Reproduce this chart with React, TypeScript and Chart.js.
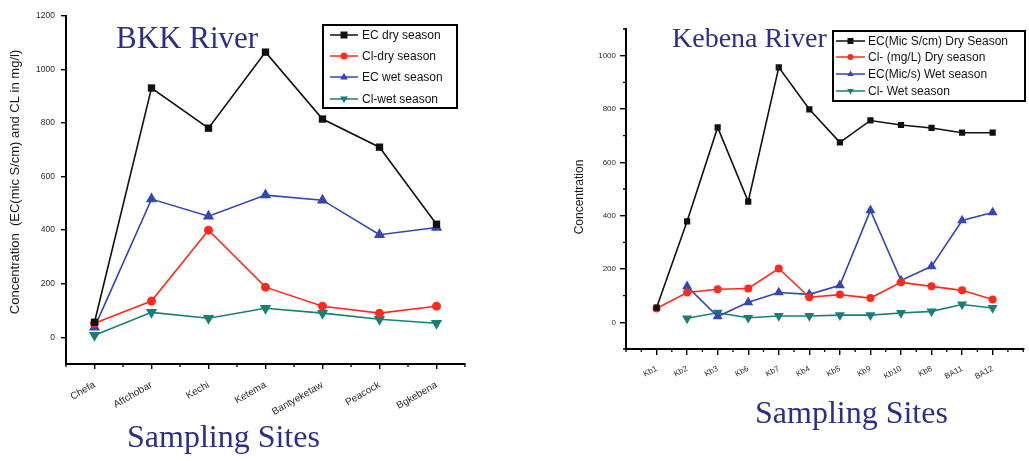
import React, { useEffect, useRef } from 'react';
import { Chart, registerables } from 'chart.js';

Chart.register(...registerables);

// ---- BKK River ----
const bkkSites = ['Chefa', 'Aftchobar', 'Kechi', 'Ketema', 'Bantyeketaw', 'Peacock', 'Bgkebena'];
const bkkEcDry = [56, 931, 781, 1065, 815, 710, 422];
const bkkClDry = [52, 135, 400, 187, 116, 90, 116];
const bkkEcWet = [37, 516, 452, 531, 512, 383, 410];
const bkkClWet = [7, 93, 71, 108, 90, 67, 52];
const bkkLabels = ['EC dry season', 'Cl-dry season', 'EC wet season', 'Cl-wet season'];
const bkkYTicks = [0, 200, 400, 600, 800, 1000, 1200];

// ---- Kebena River ----
const kebenaSites = ['Kb1', 'Kb2', 'Kb3', 'Kb6', 'Kb7', 'Kb4', 'Kb5', 'Kb9', 'Kb10', 'Kb8', 'BA11', 'BA12'];
const kebenaEcDry = [55, 379, 731, 453, 956, 799, 675, 757, 740, 729, 711, 711];
const kebenaClDry = [52, 112, 124, 127, 202, 94, 104, 91, 150, 135, 120, 86];
const kebenaEcWet = [null, 135, 22, 75, 112, 105, 139, 420, 157, 210, 382, 412];
const kebenaClWet = [null, 15, 36, 17, 24, 24, 27, 27, 35, 41, 67, 54];
const kebenaLabels = ['EC(Mic S/cm) Dry Season', 'Cl- (mg/L) Dry season', 'EC(Mic/s) Wet season', 'Cl- Wet season'];
const kebenaYTicks = [0, 200, 400, 600, 800, 1000];

// Series styling shared by both panels: colour + marker shape
const seriesColors = ['#111111', '#ff2a1c', '#3346b4', '#177f78'];
const seriesShapes = ['rect', 'circle', 'triangle', 'triangleDown'];

const NAVY = '#2d2f86';
const SERIF = '"Liberation Serif", "DejaVu Serif", serif';
const SANS = '"Liberation Sans", Arial, sans-serif';

type Shape = string;

function drawMarker(ctx: CanvasRenderingContext2D, shape: Shape, x: number, y: number, r: number, color: string) {
  ctx.save();
  ctx.fillStyle = color;
  ctx.beginPath();
  if (shape === 'rect') {
    ctx.rect(x - r, y - r, 2 * r, 2 * r);
  } else if (shape === 'circle') {
    ctx.arc(x, y, r, 0, Math.PI * 2);
  } else if (shape === 'triangle') {
    ctx.moveTo(x, y - r * 1.2);
    ctx.lineTo(x + r * 1.1, y + r * 0.7);
    ctx.lineTo(x - r * 1.1, y + r * 0.7);
    ctx.closePath();
  } else {
    ctx.moveTo(x, y + r * 1.2);
    ctx.lineTo(x + r * 1.1, y - r * 0.7);
    ctx.lineTo(x - r * 1.1, y - r * 0.7);
    ctx.closePath();
  }
  ctx.fill();
  ctx.restore();
}

type PanelCfg = {
  width: number;
  height: number;
  sites: string[];
  series: (number | null)[][];
  labels: string[];
  xShift: number;
  xMin: number;
  xMax: number;
  yMin: number;
  yMax: number;
  yTicks: number[];
  yMinor: number[];
  pad: { top: number; right: number };
  yWidth: number;
  xHeight: number;
  markerSize: number[];
  tickFont: number;
  xTickFont: number;
  xRotation: number;
  xPadding: number;
  yPadding: number;
  tickLength: number;
  title: { text: string; size: number; x: number; y: number };
  xTitle: { text: string; size: number; x: number; y: number };
  yTitle: { text: string; size: number; x: number; y: number };
  legend: { x: number; y: number; w: number; h: number; rows: number[]; lx1: number; lx2: number; tx: number; font: number; r: number };
};

function overlayPlugin(cfg: PanelCfg) {
  return {
    id: 'panelOverlay',
    afterDraw(chart: any) {
      const ctx: CanvasRenderingContext2D = chart.ctx;
      const xs = chart.scales.x;
      const ys = chart.scales.y;
      const area = chart.chartArea;

      // minor tick marks between the labelled ones
      ctx.save();
      ctx.strokeStyle = '#000';
      ctx.lineWidth = 1.3;
      ctx.beginPath();
      for (let v = cfg.xMin; v <= cfg.xMax + 1e-9; v += 0.5) {
        const idx = v - cfg.xShift;
        if (Math.abs(idx - Math.round(idx)) < 1e-9 && idx >= 0 && idx < cfg.sites.length) continue;
        const px = xs.getPixelForValue(v);
        ctx.moveTo(px, area.bottom);
        ctx.lineTo(px, area.bottom + 3);
      }
      for (const v of cfg.yMinor) {
        const py = ys.getPixelForValue(v);
        ctx.moveTo(area.left, py);
        ctx.lineTo(area.left - 3, py);
      }
      ctx.stroke();
      ctx.restore();

      // panel title and axis titles
      ctx.save();
      ctx.fillStyle = NAVY;
      ctx.textBaseline = 'alphabetic';
      ctx.textAlign = 'left';
      ctx.font = `${cfg.title.size}px ${SERIF}`;
      ctx.fillText(cfg.title.text, cfg.title.x, cfg.title.y);
      ctx.font = `${cfg.xTitle.size}px ${SERIF}`;
      ctx.fillText(cfg.xTitle.text, cfg.xTitle.x, cfg.xTitle.y);
      ctx.restore();

      ctx.save();
      ctx.fillStyle = '#1a1a1a';
      ctx.font = `${cfg.yTitle.size}px ${SANS}`;
      ctx.textAlign = 'center';
      ctx.textBaseline = 'middle';
      ctx.translate(cfg.yTitle.x, cfg.yTitle.y);
      ctx.rotate(-Math.PI / 2);
      ctx.fillText(cfg.yTitle.text, 0, 0);
      ctx.restore();

      // legend box
      const lg = cfg.legend;
      ctx.save();
      ctx.fillStyle = '#fff';
      ctx.fillRect(lg.x, lg.y, lg.w, lg.h);
      ctx.strokeStyle = '#000';
      ctx.lineWidth = 2;
      ctx.strokeRect(lg.x, lg.y, lg.w, lg.h);
      cfg.labels.forEach((label, i) => {
        const y = lg.rows[i];
        ctx.strokeStyle = seriesColors[i];
        ctx.lineWidth = 1.5;
        ctx.beginPath();
        ctx.moveTo(lg.lx1, y);
        ctx.lineTo(lg.lx2, y);
        ctx.stroke();
        drawMarker(ctx, seriesShapes[i], (lg.lx1 + lg.lx2) / 2, y, lg.r, seriesColors[i]);
        ctx.fillStyle = '#111';
        ctx.font = `${lg.font}px ${SANS}`;
        ctx.textAlign = 'left';
        ctx.textBaseline = 'middle';
        ctx.fillText(label, lg.tx, y + 0.5);
      });
      ctx.restore();
    },
  };
}

function buildConfig(cfg: PanelCfg): any {
  const datasets = cfg.series.map((values, si) => {
    const shape = seriesShapes[si];
    const data = values.flatMap((v, i) => (v == null ? [] : [{ x: i + cfg.xShift, y: v }]));
    return {
      label: cfg.labels[si],
      data,
      borderColor: seriesColors[si],
      backgroundColor: seriesColors[si],
      borderWidth: 1.6,
      pointStyle: shape === 'triangleDown' ? 'triangle' : shape,
      pointRotation: shape === 'triangleDown' ? 180 : 0,
      pointRadius: cfg.markerSize[si],
      pointBorderWidth: 0,
      tension: 0,
    };
  });

  return {
    type: 'line',
    data: { datasets },
    options: {
      animation: false,
      responsive: false,
      layout: { padding: { top: cfg.pad.top, right: cfg.pad.right, left: 0, bottom: 0 } },
      plugins: { legend: { display: false }, tooltip: { enabled: false } },
      scales: {
        x: {
          type: 'linear',
          min: cfg.xMin,
          max: cfg.xMax,
          afterBuildTicks: (s: any) => {
            s.ticks = cfg.sites.map((_, i) => ({ value: i + cfg.xShift }));
          },
          afterFit: (s: any) => {
            s.height = cfg.xHeight;
          },
          ticks: {
            callback: (v: number) => cfg.sites[Math.round(v - cfg.xShift)] ?? '',
            minRotation: cfg.xRotation,
            maxRotation: cfg.xRotation,
            autoSkip: false,
            padding: cfg.xPadding,
            color: '#2a2a2a',
            font: { family: SANS, size: cfg.xTickFont },
          },
          grid: { drawOnChartArea: false, drawTicks: true, tickLength: cfg.tickLength, color: '#000', lineWidth: 1.4 },
          border: { display: true, color: '#000', width: 2 },
        },
        y: {
          type: 'linear',
          min: cfg.yMin,
          max: cfg.yMax,
          afterBuildTicks: (s: any) => {
            s.ticks = cfg.yTicks.map((v) => ({ value: v }));
          },
          afterFit: (s: any) => {
            s.width = cfg.yWidth;
          },
          ticks: {
            callback: (v: number) => String(v),
            padding: cfg.yPadding,
            color: '#2a2a2a',
            font: { family: SANS, size: cfg.tickFont },
          },
          grid: { drawOnChartArea: false, drawTicks: true, tickLength: cfg.tickLength, color: '#000', lineWidth: 1.4 },
          border: { display: true, color: '#000', width: 2 },
        },
      },
    },
    plugins: [overlayPlugin(cfg)],
  };
}

const bkkPanel: PanelCfg = {
  width: 500,
  height: 461,
  sites: bkkSites,
  series: [bkkEcDry, bkkClDry, bkkEcWet, bkkClWet],
  labels: bkkLabels,
  xShift: 0,
  xMin: -0.5,
  xMax: 6.5,
  yMin: -100,
  yMax: 1200,
  yTicks: bkkYTicks,
  yMinor: [],
  pad: { top: 16, right: 35 },
  yWidth: 66,
  xHeight: 97,
  markerSize: [5.2, 4.5, 6.5, 6.5],
  tickFont: 8.5,
  xTickFont: 10,
  xRotation: 30,
  xPadding: 10,
  yPadding: 6,
  tickLength: 5,
  title: { text: 'BKK River', size: 31, x: 116, y: 48 },
  xTitle: { text: 'Sampling Sites', size: 32, x: 127, y: 447 },
  yTitle: { text: 'Concentration  (EC(mic S/cm) and CL in mg/l)', size: 13, x: 15, y: 182 },
  legend: { x: 323, y: 25, w: 134, h: 83, rows: [35, 56, 77, 99], lx1: 330, lx2: 358, tx: 362, font: 12, r: 3.5 },
};

const kebenaPanel: PanelCfg = {
  width: 509,
  height: 461,
  sites: kebenaSites,
  series: [kebenaEcDry, kebenaClDry, kebenaEcWet, kebenaClWet],
  labels: kebenaLabels,
  xShift: 1,
  xMin: 0,
  xMax: 13,
  yMin: -100,
  yMax: 1100,
  yTicks: kebenaYTicks,
  yMinor: [-100, 100, 300, 500, 700, 900, 1100],
  pad: { top: 29, right: 1 },
  yWidth: 106,
  xHeight: 112,
  markerSize: [4.4, 4, 5.8, 5.8],
  tickFont: 8,
  xTickFont: 8,
  xRotation: 28,
  xPadding: 9,
  yPadding: 4,
  tickLength: 6,
  title: { text: 'Kebena River', size: 28, x: 152, y: 47 },
  xTitle: { text: 'Sampling Sites', size: 32, x: 235, y: 423 },
  yTitle: { text: 'Concentration', size: 12, x: 60, y: 197 },
  legend: { x: 313, y: 31, w: 192, h: 70, rows: [41, 57, 74, 91], lx1: 316, lx2: 345, tx: 348, font: 12, r: 3 },
};

function RiverPanel({ cfg, left }: { cfg: PanelCfg; left: number }) {
  const ref = useRef<HTMLCanvasElement>(null);
  useEffect(() => {
    const chart = new Chart(ref.current as HTMLCanvasElement, buildConfig(cfg));
    return () => chart.destroy();
  }, [cfg]);
  return (
    <div style={{ position: 'absolute', left, top: 0, width: cfg.width, height: cfg.height }}>
      <canvas ref={ref} width={cfg.width} height={cfg.height} style={{ display: 'block' }} />
    </div>
  );
}

export default function App() {
  return (
    <div style={{ position: 'absolute', left: 0, top: 0, width: 1029, height: 461, background: '#fff', overflow: 'hidden' }}>
      <RiverPanel cfg={bkkPanel} left={0} />
      <RiverPanel cfg={kebenaPanel} left={520} />
    </div>
  );
}
